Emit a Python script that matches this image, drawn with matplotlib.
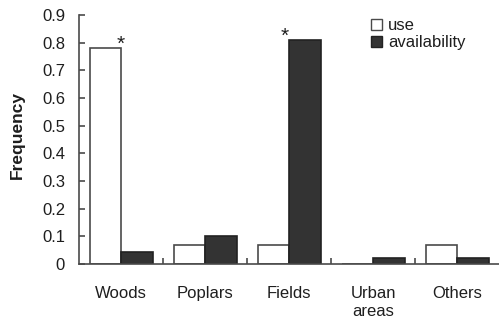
import matplotlib
matplotlib.use("Agg")
import matplotlib.pyplot as plt
from matplotlib.patches import Patch
import numpy as np

plt.rcParams['font.family'] = ['Liberation Sans', 'DejaVu Sans']

habitats = ['Woods', 'Poplars', 'Fields', 'Urban\nareas', 'Others']
use = [0.78, 0.07, 0.07, 0.0, 0.07]
availability = [0.045, 0.10, 0.81, 0.02, 0.02]
significant = ['Woods', 'Fields']
yticks = [0, 0.1, 0.2, 0.3, 0.4, 0.5, 0.6, 0.7, 0.8, 0.9]
ytick_labels = ['0', '0.1', '0.2', '0.3', '0.4', '0.5', '0.6', '0.7', '0.8', '0.9']

edge = '#4a4a4a'
dark = '#333333'
txt = '#1e1e1e'

fig = plt.figure(figsize=(4.99, 3.29), dpi=100)
ax = fig.add_axes([79 / 499, 1 - 264 / 329, 420 / 499, 249 / 329])

x = np.arange(len(habitats))
w = 0.375
ax.bar(x - w / 2, use, w, color='white', edgecolor=edge, linewidth=1.2, label='use')
ax.bar(x + w / 2, availability, w, color=dark, edgecolor='#222222', linewidth=1.2,
       label='availability')

# asterisks over the significant categories
for name in significant:
    i = habitats.index(name)
    top = max(use[i], availability[i])
    ax.annotate('*', (x[i] - (0.05 if i == 2 else 0), top), xytext=(0, -4),
                textcoords='offset points', ha='center', va='bottom',
                fontsize=15, color=txt)

ax.set_xlim(-0.5, len(habitats) - 0.5)
ax.set_ylim(0, 0.9)
ax.set_yticks(yticks)
ax.set_yticklabels(ytick_labels)

# category labels on minor ticks, separators on major ticks
ax.set_xticks(np.arange(len(habitats) - 1) + 0.5)
ax.set_xticklabels([])
ax.set_xticks(x, minor=True)
ax.set_xticklabels(habitats, minor=True, linespacing=1.25)
ax.tick_params(axis='x', which='minor', length=0, pad=16, labelsize=12, labelcolor=txt)
ax.tick_params(axis='x', which='major', direction='in', length=4, width=1.2, color=edge)
ax.tick_params(axis='y', direction='in', length=4.5, width=1.2, color=edge, pad=10,
               labelsize=12, labelcolor=txt)

for s in ['top', 'right']:
    ax.spines[s].set_visible(False)
for s in ['left', 'bottom']:
    ax.spines[s].set_color(edge)
    ax.spines[s].set_linewidth(1.2)

ax.set_ylabel('Frequency', fontsize=12.5, fontweight='bold', color=txt)
ax.yaxis.set_label_coords(-0.129, 0.518)

handles = [Patch(facecolor='white', edgecolor=edge, label='use'),
           Patch(facecolor=dark, edgecolor='#222222', label='availability')]
ax.legend(handles=handles, loc='upper left', bbox_to_anchor=(0.68, 1.015),
          frameon=False, fontsize=12, handlelength=0.65, handleheight=0.65,
          handletextpad=0.35, labelspacing=0.15, borderaxespad=0, labelcolor=txt)

fig.savefig('out.png', dpi=100)
